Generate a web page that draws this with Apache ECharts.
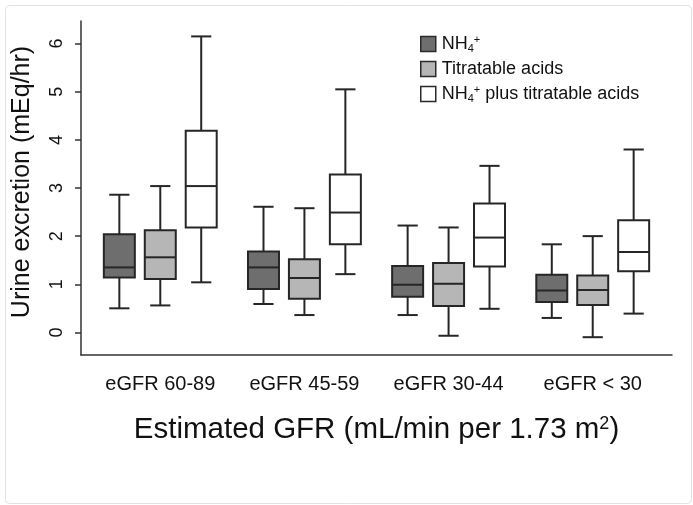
<!DOCTYPE html>
<html>
<head>
<meta charset="utf-8">
<title>Urine excretion by eGFR</title>
<script src="https://cdn.jsdelivr.net/npm/echarts@6/dist/echarts.min.js"></script>
<style>
  html, body { margin: 0; padding: 0; background: #fff; }
  #chart { width: 693px; height: 505px; }
</style>
</head>
<body>
<div id="chart"></div>
<script>
// categories on the x axis
var categories = ['eGFR 60-89', 'eGFR 45-59', 'eGFR 30-44', 'eGFR < 30']
// box stats per group: [min, Q1, median, Q3, max]
var nh4 = [
  [0.50, 1.14, 1.35, 2.04, 2.86],
  [0.59, 0.90, 1.35, 1.68, 2.61],
  [0.36, 0.74, 0.99, 1.38, 2.22],
  [0.30, 0.63, 0.87, 1.20, 1.83]
]
var titratable = [
  [0.56, 1.11, 1.56, 2.12, 3.04],
  [0.36, 0.70, 1.13, 1.52, 2.58],
  [-0.07, 0.55, 1.01, 1.44, 2.18],
  [-0.10, 0.57, 0.88, 1.18, 2.00]
]
var combined = [
  [1.04, 2.18, 3.04, 4.19, 6.15],
  [1.21, 1.83, 2.49, 3.28, 5.05],
  [0.49, 1.37, 1.97, 2.68, 3.46],
  [0.39, 1.27, 1.67, 2.33, 3.80]
]
var yTicks = [0, 1, 2, 3, 4, 5, 6]

var FONT = "'Liberation Sans', Arial, Helvetica, sans-serif"
var LINE = '#262626'
var BOX_W = 0.215   // box width, in category units
var CAP_W = 0.14    // whisker cap width
var SHIFT = 0.284   // distance between boxes of one group

function toRows(stats) {
  return stats.map(function (s, i) { return [i].concat(s) })
}

function boxRenderer(offset, fill) {
  return function (params, api) {
    var x = api.value(0) + offset
    var pMin = api.coord([x, api.value(1)])
    var pQ1 = api.coord([x, api.value(2)])
    var pMed = api.coord([x, api.value(3)])
    var pQ3 = api.coord([x, api.value(4)])
    var pMax = api.coord([x, api.value(5)])
    var hw = api.size([BOX_W, 0])[0] / 2
    var hc = api.size([CAP_W, 0])[0] / 2
    var cx = pMin[0]
    var st = { stroke: LINE, lineWidth: 2, fill: null }
    return {
      type: 'group',
      children: [
        { type: 'line', shape: { x1: cx, y1: pQ3[1], x2: cx, y2: pMax[1] }, style: st },
        { type: 'line', shape: { x1: cx - hc, y1: pMax[1], x2: cx + hc, y2: pMax[1] }, style: st },
        { type: 'line', shape: { x1: cx, y1: pQ1[1], x2: cx, y2: pMin[1] }, style: st },
        { type: 'line', shape: { x1: cx - hc, y1: pMin[1], x2: cx + hc, y2: pMin[1] }, style: st },
        { type: 'rect', shape: { x: cx - hw, y: pQ3[1], width: hw * 2, height: pQ1[1] - pQ3[1] },
          style: { fill: fill, stroke: LINE, lineWidth: 2 } },
        { type: 'line', shape: { x1: cx - hw, y1: pMed[1], x2: cx + hw, y2: pMed[1] }, style: st }
      ]
    }
  }
}

var colors = ['#6e6e6e', '#b6b6b6', '#ffffff']
var names = ['NH4', 'Titratable acids', 'NH4 plus titratable acids']
var labelsRich = {
  'NH4': 'NH{sub|4}{sup|+}',
  'Titratable acids': 'Titratable acids',
  'NH4 plus titratable acids': 'NH{sub|4}{sup|+} plus titratable acids'
}

var chart = echarts.init(document.getElementById('chart'))
chart.setOption({
  animation: false,
  textStyle: { fontFamily: FONT },
  graphic: [{
    type: 'rect', left: 3, top: 3, silent: true,
    shape: { width: 686, height: 498, r: 4 },
    style: { fill: null, stroke: '#e2e2e2', lineWidth: 1 }
  }],
  grid: { left: 81, right: 21, top: 21, bottom: 150 },
  legend: {
    orient: 'vertical',
    left: 415,
    top: 29,
    itemWidth: 15,
    itemHeight: 15,
    itemGap: 5,
    icon: 'rect',
    data: names.map(function (n, i) {
      return { name: n, itemStyle: { color: colors[i], borderColor: '#2a2a2a', borderWidth: 1.5 } }
    }),
    formatter: function (n) { return labelsRich[n] },
    textStyle: {
      fontFamily: FONT, fontSize: 18, color: '#111', lineHeight: 20, height: 20, padding: [0, 0, 0, 1],
      rich: {
        sub: { fontFamily: FONT, fontSize: 11, color: '#111', verticalAlign: 'bottom', lineHeight: 7 },
        sup: { fontFamily: FONT, fontSize: 11, color: '#111', verticalAlign: 'top', lineHeight: 11 }
      }
    }
  },
  xAxis: {
    type: 'value',
    min: -0.55,
    max: 3.55,
    splitLine: { show: false },
    axisLine: { show: true, onZero: false, lineStyle: { color: '#333', width: 1.5 } },
    axisTick: { show: false },
    axisLabel: {
      customValues: [0, 1, 2, 3],
      formatter: function (v) { return categories[Math.round(v)] },
      fontFamily: FONT, fontSize: 20, color: '#111', margin: 19
    },
    name: 'Estimated GFR (mL/min per 1.73 m{sup|2})',
    nameLocation: 'middle',
    nameGap: 60,
    nameTextStyle: {
      fontFamily: FONT, fontSize: 29.5, color: '#111',
      rich: { sup: { fontFamily: FONT, fontSize: 18, color: '#111', verticalAlign: 'top', padding: [0, 0, 10, 0] } }
    }
  },
  yAxis: {
    type: 'value',
    min: -0.47,
    max: 6.47,
    splitLine: { show: false },
    axisLine: { show: true, onZero: false, lineStyle: { color: '#333', width: 1.5 } },
    axisTick: { show: true, length: 6, customValues: yTicks, lineStyle: { color: '#333', width: 1.5 } },
    axisLabel: {
      customValues: yTicks,
      rotate: 90,
      fontFamily: FONT, fontSize: 18, color: '#111', margin: 15
    },
    name: 'Urine excretion (mEq/hr)',
    nameLocation: 'middle',
    nameGap: 46,
    nameTextStyle: { fontFamily: FONT, fontSize: 25, color: '#111', padding: [0, 0, 0, 12] }
  },
  series: [nh4, titratable, combined].map(function (stats, i) {
    return {
      type: 'custom',
      name: names[i],
      itemStyle: { color: colors[i] },
      encode: { x: 0, y: [1, 2, 3, 4, 5] },
      data: toRows(stats),
      renderItem: boxRenderer((i - 1) * SHIFT, colors[i])
    }
  })
})
</script>
</body>
</html>
